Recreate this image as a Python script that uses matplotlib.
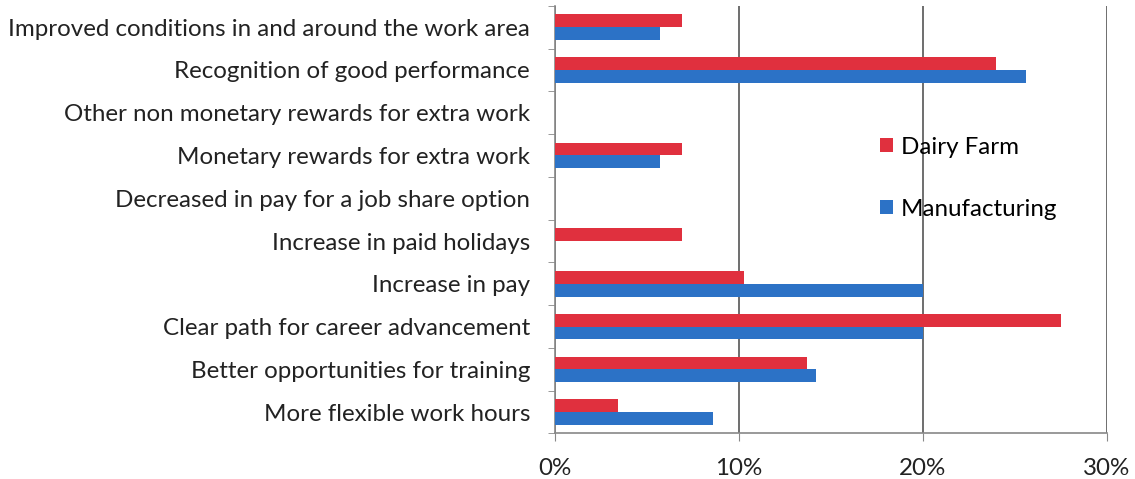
import matplotlib
matplotlib.use("Agg")
import matplotlib.pyplot as plt
import numpy as np
from matplotlib.ticker import FuncFormatter

categories = [
    "More flexible work hours",
    "Better opportunities for training",
    "Clear path for career advancement",
    "Increase in pay",
    "Increase in paid holidays",
    "Decreased in pay for a job share option",
    "Monetary rewards for extra work",
    "Other non monetary rewards for extra work",
    "Recognition of good performance",
    "Improved conditions in and around the work area",
]
dairy_farm = [3.4, 13.7, 27.5, 10.3, 6.9, 0.0, 6.9, 0.0, 24.0, 6.9]
manufacturing = [8.6, 14.2, 20.0, 20.0, 0.0, 0.0, 5.7, 0.0, 25.6, 5.7]
x_ticks = [0, 10, 20, 30]

plt.rcParams["font.family"] = ["Lato", "DejaVu Sans"]

fig = plt.figure(figsize=(11.35, 4.79), dpi=100)
ax = fig.add_axes([0.489, 0.095, 0.486, 0.893])

y = np.arange(len(categories))
h = 0.3
ax.barh(y + h / 2, dairy_farm, height=h, color="#E0303E", label="Dairy Farm", zorder=3)
ax.barh(y - h / 2, manufacturing, height=h, color="#2C72C6", label="Manufacturing", zorder=3)

ax.set_xlim(0, 30)
ax.set_ylim(-0.5, len(categories) - 0.5)
ax.set_xticks(x_ticks)
ax.xaxis.set_major_formatter(FuncFormatter(lambda v, p: f"{v:.0f}%"))
ax.set_yticks(y)
ax.set_yticklabels(categories)
ax.set_yticks(np.arange(-0.5, len(categories), 1), minor=True)
ax.tick_params(axis="y", which="major", length=0, pad=18, labelsize=17.4, colors="#222222")
ax.tick_params(axis="y", which="minor", length=5, color="#888888")
ax.tick_params(axis="x", length=6, color="#888888", labelsize=17.4, pad=12, labelcolor="#222222")

ax.grid(axis="x", color="#555555", linewidth=1.2, zorder=0)
for side in ["top", "right"]:
    ax.spines[side].set_visible(False)
for side in ["left", "bottom"]:
    ax.spines[side].set_color("#888888")
    ax.spines[side].set_linewidth(1.2)

ax.legend(loc="upper left", bbox_to_anchor=(0.55, 0.745), frameon=False,
          fontsize=17.4, handlelength=0.55, handleheight=0.55, handletextpad=0.3,
          labelspacing=1.7)

fig.savefig("out.png", dpi=100, facecolor="white")
